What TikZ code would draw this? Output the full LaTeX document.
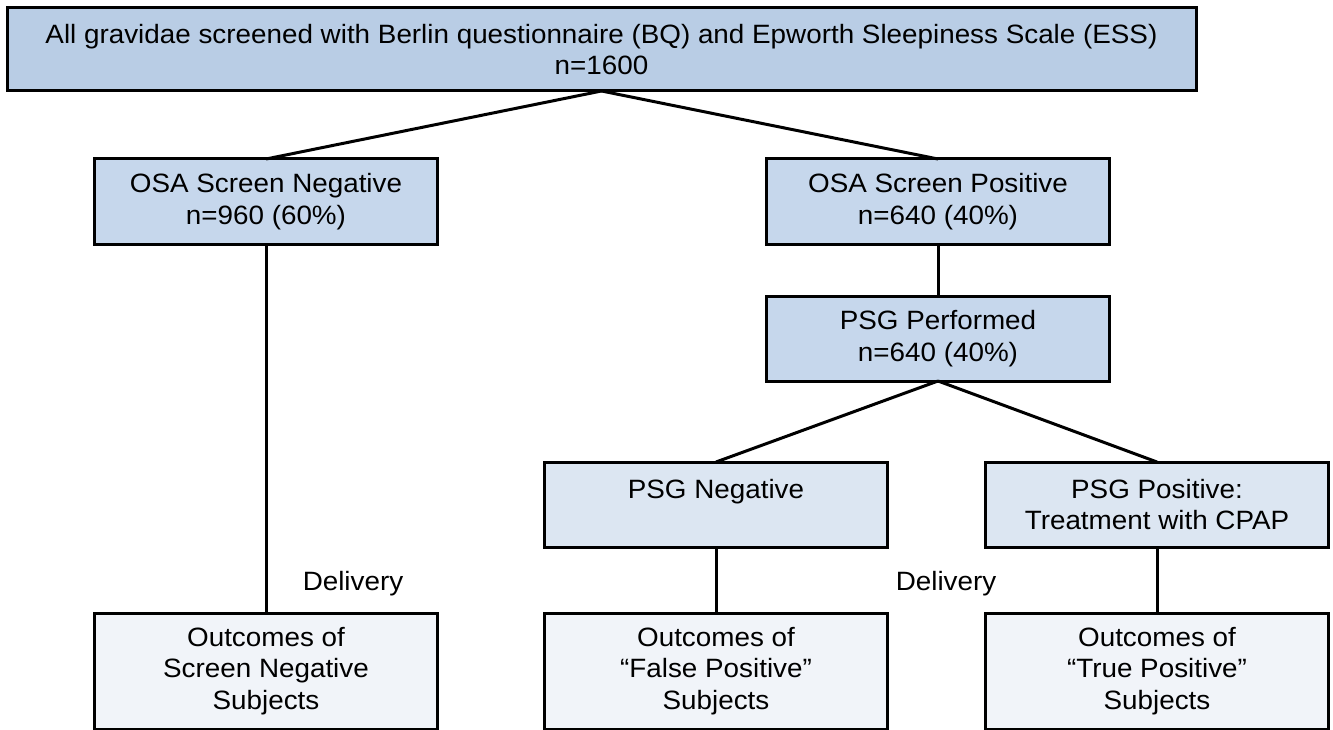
\documentclass[tikz,border=0pt]{standalone}
\usepackage{fontspec}
\setmainfont{Liberation Sans}[FakeStretch=1.05]
\usetikzlibrary{positioning}
\definecolor{Steel}{HTML}{B9CDE5}
\definecolor{Mist}{HTML}{C6D7EC}
\definecolor{Frost}{HTML}{DCE6F2}
\definecolor{Snow}{HTML}{F1F4F9}
\tikzset{
 box/.style={draw=black,line width=3pt,fill=Mist,align=center,outer sep=0pt,
   font=\fontsize{26.5}{31.5}\selectfont,minimum width=343pt,minimum height=85pt,inner sep=4pt},
 headbox/.style={box,fill=Steel,minimum width=1189pt,minimum height=83pt},
 testbox/.style={box,fill=Frost},
 outbox/.style={box,fill=Snow,minimum height=116pt},
 link/.style={line width=3pt},
 tag/.style={font=\fontsize{26.5}{31.5}\selectfont,inner sep=0pt}
}

\begin{document}
\begin{tikzpicture}[x=1pt,y=-1pt]
\useasboundingbox (0,0) rectangle (1333,730);
\node[headbox] (top) at (601.5,49.5) {All gravidae screened with Berlin questionnaire (BQ) and Epworth Sleepiness Scale (ESS)\\n=1600};
\node[box,below=68pt of top.south,xshift=-335.5pt] (osaneg) {OSA Screen Negative\\n=960 (60\%)};
\node[box,below=68pt of top.south,xshift=336.5pt] (osapos) {OSA Screen Positive\\n=640 (40\%)};
\node[box,below=52pt of osapos] (psgdone) {PSG Performed\\n=640 (40\%)};
\node[testbox,text depth=32pt,below=81pt of psgdone.south,xshift=-222pt] (psgneg) {PSG Negative};
\node[testbox,below=81pt of psgdone.south,xshift=219pt] (psgpos) {PSG Positive:\\Treatment with CPAP};
\node[outbox,below=66pt of psgneg] (outfp) {Outcomes of\\``False Positive''\\Subjects};
\node[outbox,below=66pt of psgpos] (outtp) {Outcomes of\\``True Positive''\\Subjects};
\node[outbox] (outneg) at (osaneg |- outfp) {Outcomes of\\Screen Negative\\Subjects};
\node[tag] (del1) at (353,584) {Delivery};
\node[tag] (del2) at (946,584) {Delivery};
\draw[link] (top.south)--(osaneg.north);\draw[link] (top.south)--(osapos.north);
\draw[link] (osapos)--(psgdone);
\draw[link] (psgdone.south)--(psgneg.north);\draw[link] (psgdone.south)--(psgpos.north);
\draw[link] (osaneg)--(outneg);\draw[link] (psgneg)--(outfp);\draw[link] (psgpos)--(outtp);
\end{tikzpicture}
\end{document}
